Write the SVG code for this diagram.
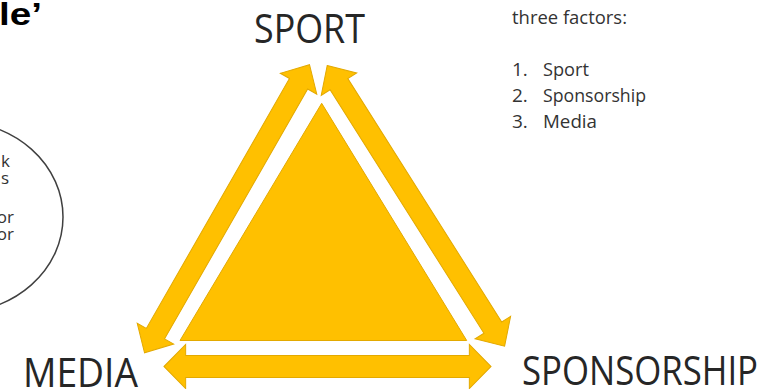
<svg xmlns="http://www.w3.org/2000/svg" width="765" height="389" viewBox="0 0 765 389">
  <style>
    .label { font-family: "Open Sans", "Noto Sans", sans-serif; fill: #262626; }
    .big { font-size: 40px; }
    .note { font-size: 19px; fill: #333333; }
    .small { font-size: 17px; fill: #333333; }
    .gold { fill: #FFC000; stroke: #E3A900; stroke-width: 1; stroke-linejoin: miter; }
  </style>
  <defs>
    <!-- double-headed block arrow centred on the origin, pointing along x -->
    <path id="dbl" d="M -166 0 L -144 -21 L -144 -10.5 L 144 -10.5 L 144 -21 L 166 0 L 144 21 L 144 10.5 L -144 10.5 L -144 21 Z"/>
  </defs>

  <rect width="765" height="389" fill="#ffffff"/>

  <!-- title fragment -->
  <text x="-1" y="25" font-family="Liberation Sans, sans-serif" font-weight="bold" font-size="32" fill="#000" textLength="43" lengthAdjust="spacingAndGlyphs">le’</text>

  <!-- side note ellipse -->
  <g id="note-ellipse">
    <ellipse cx="-45" cy="217" rx="108" ry="96" fill="none" stroke="#404040" stroke-width="1.5"/>
    <text class="label small" x="10" y="167" text-anchor="end">k</text>
    <text class="label small" x="9" y="184" text-anchor="end">s</text>
    <text class="label small" x="14" y="223" text-anchor="end">or</text>
    <text class="label small" x="14" y="240" text-anchor="end">or</text>
  </g>

  <!-- factor list -->
  <g id="factor-list">
    <text class="label note" x="512" y="24" textLength="115" lengthAdjust="spacingAndGlyphs">three factors:</text>
    <text class="label note" x="512" y="76">1.</text>
    <text class="label note" x="543" y="76" textLength="46" lengthAdjust="spacingAndGlyphs">Sport</text>
    <text class="label note" x="512" y="102">2.</text>
    <text class="label note" x="543" y="102" textLength="103" lengthAdjust="spacingAndGlyphs">Sponsorship</text>
    <text class="label note" x="512" y="128">3.</text>
    <text class="label note" x="543" y="128" textLength="54" lengthAdjust="spacingAndGlyphs">Media</text>
  </g>

  <!-- centre triangle -->
  <g id="core">
    <polygon class="gold" points="321.7,103.3 180,340.5 466.7,340.5"/>
  </g>

  <!-- connectors between the three factors -->
  <g id="connectors">
    <use href="#dbl" class="gold" transform="translate(227,208.7) rotate(-60.2)"/>
    <use href="#dbl" class="gold" transform="translate(415.9,205.9) rotate(57.7)"/>
    <use href="#dbl" class="gold" transform="translate(327.5,366.5) scale(0.985,1.05)"/>
  </g>

  <!-- factor nodes -->
  <g id="sport">
    <text class="label big" x="254" y="43" textLength="111" lengthAdjust="spacingAndGlyphs">SPORT</text>
  </g>
  <g id="media">
    <text class="label big" x="23" y="387" font-size="38" textLength="115" lengthAdjust="spacingAndGlyphs">MEDIA</text>
  </g>
  <g id="sponsorship">
    <text class="label big" x="522" y="385" font-size="38" textLength="236" lengthAdjust="spacingAndGlyphs">SPONSORSHIP</text>
  </g>
</svg>
